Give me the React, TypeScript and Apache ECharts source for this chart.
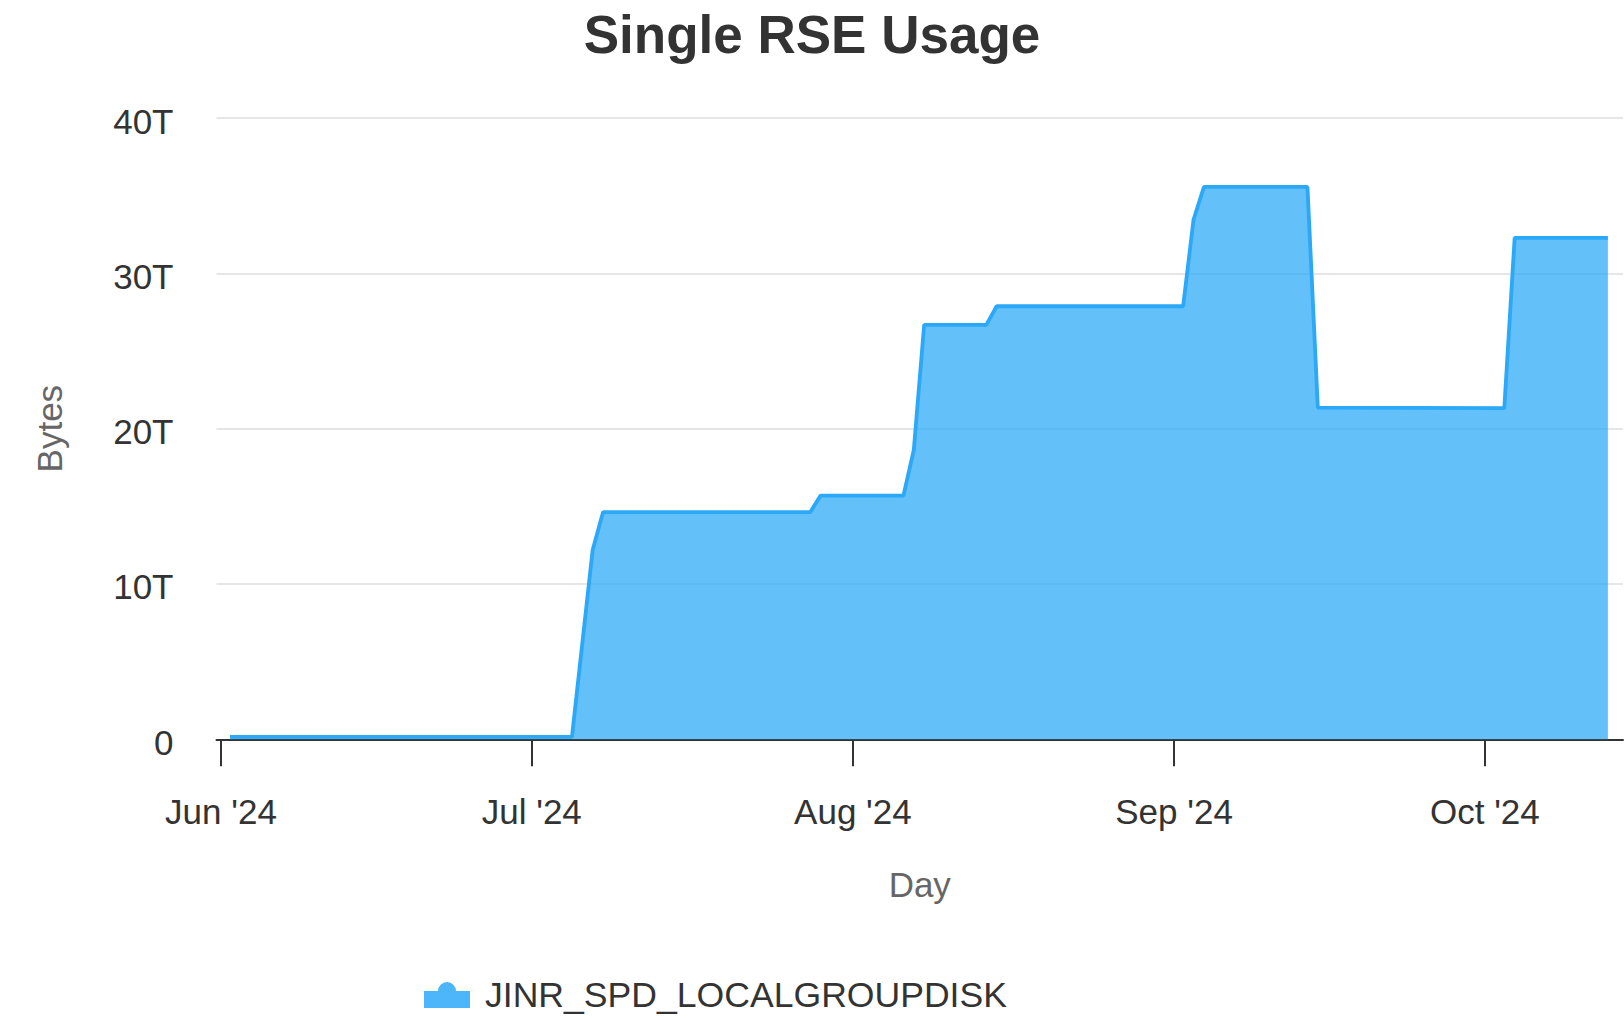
import React, { useEffect, useRef } from "react";
import * as echarts from "echarts";

const chartTitle = "Single RSE Usage";
const seriesName = "JINR_SPD_LOCALGROUPDISK";

// daily snapshots where the level changes (UTC)
const sampleTimes = [
  "2024-06-01T21:00:00Z",
  "2024-07-04T21:00:00Z",
  "2024-07-06T21:00:00Z",
  "2024-07-07T21:00:00Z",
  "2024-07-27T21:00:00Z",
  "2024-07-28T21:00:00Z",
  "2024-08-05T21:00:00Z",
  "2024-08-06T21:00:00Z",
  "2024-08-07T21:00:00Z",
  "2024-08-13T21:00:00Z",
  "2024-08-14T21:00:00Z",
  "2024-09-01T21:00:00Z",
  "2024-09-02T21:00:00Z",
  "2024-09-03T21:00:00Z",
  "2024-09-13T21:00:00Z",
  "2024-09-14T21:00:00Z",
  "2024-10-02T21:00:00Z",
  "2024-10-03T21:00:00Z",
  "2024-10-12T21:00:00Z",
];
// usage in terabytes (10^12 bytes)
const usageTB = [
  0.15, 0.15, 12.19, 14.62, 14.62, 15.69, 15.69, 18.63, 26.68, 26.68, 27.88,
  27.88, 33.44, 35.56, 35.56, 21.35, 21.32, 32.28, 32.28,
];

const monthTicks = ["2024-06-01", "2024-07-01", "2024-08-01", "2024-09-01", "2024-10-01"];
const monthLabels = ["Jun '24", "Jul '24", "Aug '24", "Sep '24", "Oct '24"];
const yTickLabels = ["0", "10T", "20T", "30T", "40T"];

const axisStart = "2024-05-31T13:35:00Z";
const axisEnd = "2024-10-14T08:00:00Z";

const FONT = "'Liberation Sans', Arial, Helvetica, sans-serif";
const LINE_COLOR = "#2ba8f7";

export default function App() {
  const ref = useRef<HTMLDivElement>(null);

  useEffect(() => {
    if (!ref.current) return;
    const chart = echarts.init(ref.current, null, { renderer: "svg" });

    const tickValues = monthTicks.map((d) => Date.parse(d + "T00:00:00Z"));
    const data = sampleTimes.map((t, i) => [Date.parse(t), usageTB[i] * 1e12]);

    chart.setOption({
      animation: false,
      textStyle: { fontFamily: FONT },
      title: {
        text: chartTitle,
        left: "center",
        top: 8,
        padding: 0,
        textStyle: { fontSize: 53, fontWeight: "bold", color: "#333333", fontFamily: FONT },
      },
      legend: {
        data: [
          {
            name: seriesName,
            icon: "path://M0,9 L46,9 L46,26 L0,26 Z M14,9 A9,9 0 1,1 32,9 A9,9 0 1,1 14,9 Z",
          },
        ],
        left: 424,
        top: 977,
        padding: 0,
        itemWidth: 46,
        itemHeight: 26,
        itemStyle: { color: "#4db6fa" },
        textStyle: { fontSize: 35.6, color: "#333333", fontFamily: FONT, padding: [0, 0, 0, 10] },
      },
      grid: { left: 216.5, right: 1, top: 118, bottom: 280.7, containLabel: false },
      xAxis: {
        type: "value",
        min: Date.parse(axisStart),
        max: Date.parse(axisEnd),
        name: "Day",
        nameLocation: "middle",
        nameGap: 128,
        nameTextStyle: { fontSize: 35, color: "#666666", fontFamily: FONT },
        axisLine: { show: true, onZero: false, lineStyle: { color: "#333333", width: 2 } },
        axisTick: {
          show: true,
          length: 27,
          lineStyle: { color: "#333333", width: 2 },
          customValues: tickValues,
        },
        axisLabel: {
          show: true,
          margin: 55,
          fontSize: 35,
          color: "#333333",
          fontFamily: FONT,
          customValues: tickValues,
          formatter: (v: number) => {
            const idx = tickValues.findIndex((t) => Math.abs(t - v) < 3600000);
            return idx >= 0 ? monthLabels[idx] : "";
          },
        },
        splitLine: { show: false },
      },
      yAxis: {
        type: "value",
        min: 0,
        max: 40e12,
        interval: 10e12,
        name: "Bytes",
        nameLocation: "middle",
        nameRotate: 90,
        nameGap: 150,
        nameTextStyle: { fontSize: 35, color: "#666666", fontFamily: FONT },
        axisLine: { show: false },
        axisTick: { show: false },
        axisLabel: {
          margin: 43,
          fontSize: 35,
          color: "#333333",
          fontFamily: FONT,
          formatter: (v: number) => "{t|" + (yTickLabels[Math.round(v / 10e12)] ?? "") + "}",
          rich: {
            t: {
              fontSize: 35,
              color: "#333333",
              fontFamily: FONT,
              padding: [6, 0, 0, 0],
            },
          },
        },
        splitLine: { show: true, lineStyle: { color: "#e6e6e6", width: 2 } },
      },
      series: [
        {
          name: seriesName,
          type: "line",
          data,
          showSymbol: false,
          symbol: "circle",
          itemStyle: { color: LINE_COLOR },
          lineStyle: { color: LINE_COLOR, width: 3.8 },
          areaStyle: { color: LINE_COLOR, opacity: 0.73 },
          z: 2,
        },
      ],
    });

    return () => chart.dispose();
  }, []);

  return (
    <div
      ref={ref}
      style={{ position: "fixed", left: 0, top: 0, width: 1624, height: 1020, background: "#ffffff" }}
    />
  );
}
